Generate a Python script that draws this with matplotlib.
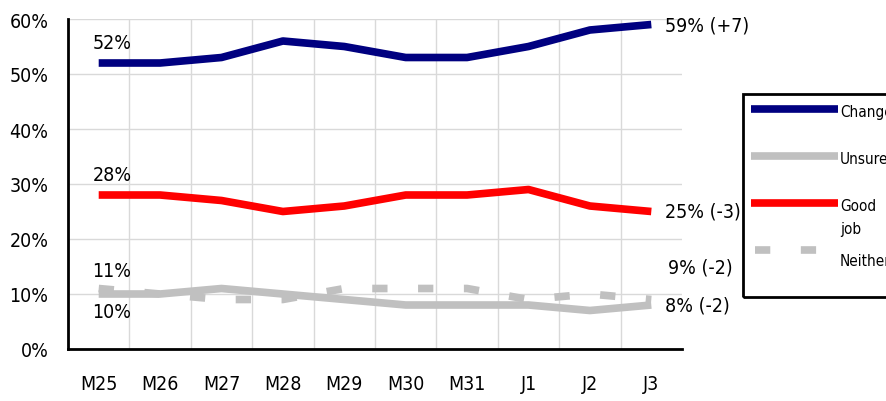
import numpy as np
import matplotlib
matplotlib.use("Agg")
import matplotlib.pyplot as plt
from matplotlib.lines import Line2D
from matplotlib.patches import Rectangle

plt.rcParams['font.family'] = ['DejaVu Sans']
plt.rcParams['font.stretch'] = 'condensed'

days = ["M25", "M26", "M27", "M28", "M29", "M30", "M31", "J1", "J2", "J3"]
change = [52, 52, 53, 56, 55, 53, 53, 55, 58, 59]
good_job = [28, 28, 27, 25, 26, 28, 28, 29, 26, 25]
unsure = [10, 10, 11, 10, 9, 8, 8, 8, 7, 8]
neither = [11, 10, 9, 9, 11, 11, 11, 9, 10, 9]
end_labels = ["59% (+7)", "25% (-3)", "8% (-2)", "9% (-2)"]
legend_names = ["Change", "Unsure", "Good\njob", "Neither"]

W, H = 887, 402
fig = plt.figure(figsize=(W / 100, H / 100), dpi=100)
ax = fig.add_axes([68 / W, 52 / H, 614 / W, 330 / H])
x = np.arange(len(days))

l1, = ax.plot(x, change, color="#000080", lw=5.5, solid_capstyle="butt")
l2, = ax.plot(x, unsure, color="#c0c0c0", lw=5.5, solid_capstyle="butt")
l3, = ax.plot(x, good_job, color="#ff0000", lw=5.5, solid_capstyle="butt")
l4, = ax.plot(x, neither, color="#c0c0c0", lw=5.5, dashes=(2, 4), dash_capstyle="butt")

ax.set_xlim(-0.5, len(days) - 0.5)
ax.set_ylim(0, 60)
ax.set_yticks(np.arange(0, 61, 10))
ax.set_yticklabels([f"{v}%" for v in range(0, 61, 10)])
ax.set_xticks(x)
ax.set_xticklabels(days)
ax.set_xticks(x[:-1] + 0.5, minor=True)
ax.tick_params(axis="both", which="both", length=0, labelsize=14)
ax.tick_params(axis="x", pad=18)
ax.tick_params(axis="y", pad=14)
ax.grid(True, axis="y", color="#d9d9d9", lw=1)
ax.grid(True, axis="x", which="minor", color="#d9d9d9", lw=1)
ax.grid(False, axis="x", which="major")
ax.set_axisbelow(True)
for s in ["top", "right"]:
    ax.spines[s].set_visible(False)
for s in ["left", "bottom"]:
    ax.spines[s].set_linewidth(2)

# start labels
ax.text(-0.1, change[0] + 2, f"{change[0]}%", fontsize=14, ha="left", va="bottom")
ax.text(-0.1, good_job[0] + 2, f"{good_job[0]}%", fontsize=14, ha="left", va="bottom")
ax.text(-0.1, neither[0] + 1.5, f"{neither[0]}%", fontsize=14, ha="left", va="bottom")
ax.text(-0.1, unsure[0] - 1.5, f"{unsure[0]}%", fontsize=14, ha="left", va="top")

# end labels
ax.text(9.22, change[-1], end_labels[0], fontsize=14, va="center", clip_on=False)
ax.text(9.22, good_job[-1], end_labels[1], fontsize=14, va="center", clip_on=False)
ax.text(9.22, unsure[-1], end_labels[2], fontsize=14, va="center", clip_on=False)
ax.text(9.27, neither[-1] + 6, end_labels[3], fontsize=14, va="center", clip_on=False)

# legend box drawn by hand (runs off the right edge like the original)
fig.add_artist(Rectangle((743 / W, 1 - 298 / H), 160 / W, 203 / H, transform=fig.transFigure,
                         fill=False, lw=2, ec="black"))
rows = [110, 157, 204, 251]
for line, name, yy in zip([l1, l2, l3, l4], legend_names, rows):
    yf = 1 - yy / H
    h = Line2D([751 / W, 838 / W], [yf, yf], transform=fig.transFigure,
               color=line.get_color(), lw=line.get_linewidth(), solid_capstyle="butt",
               dash_capstyle="butt")
    if line is l4:
        h.set_dashes((2, 4))
        h.set_xdata([755 / W, 838 / W])
    fig.add_artist(h)
fig.text(840 / W, 1 - 113 / H, legend_names[0], fontsize=11, va="center")
fig.text(840 / W, 1 - 160 / H, legend_names[1], fontsize=11, va="center")
fig.text(840 / W, 1 - 199 / H, legend_names[2], fontsize=11, va="top", linespacing=1.65)
fig.text(840 / W, 1 - 261 / H, legend_names[3], fontsize=11, va="center")

fig.savefig("out.png", dpi=100)
